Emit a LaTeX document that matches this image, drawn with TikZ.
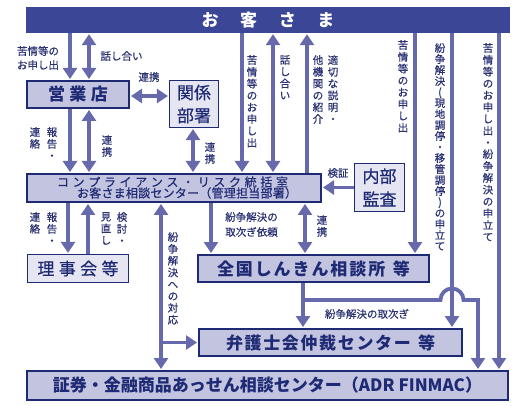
\documentclass[tikz,border=0pt]{standalone}
\usepackage{fontspec}
\setmainfont{Noto Sans CJK JP}
\newfontfamily\medfont[FakeBold=0.5]{Noto Sans CJK JP}
\usetikzlibrary{arrows.meta, positioning, calc}

\definecolor{barblue}{HTML}{3B4796}
\definecolor{navy}{HTML}{1E2A74}
\definecolor{boxfill}{HTML}{C3C4E0}
\definecolor{litefill}{HTML}{E6E6F3}
\definecolor{arrowc}{HTML}{6669AB}
\definecolor{labelc}{HTML}{2A3273}

% spread characters over a width
\def\spreadloop#1#2{#1\ifx#2\relax\else\hfil\expandafter\spreadloop\expandafter#2\fi}
\newcommand{\spaced}[2]{\makebox[#1][s]{\spreadloop#2\relax}}
% vertical (tategaki) text
\def\vloop#1{\ifx#1\relax\else\hbox to 1.1em{\hss#1\hss}\expandafter\vloop\fi}
\newcommand{\vtext}[2][11.8pt]{\vbox{\baselineskip=#1\lineskiplimit=-20pt\vloop#2\relax}}

\tikzset{
  arr/.style={line width=3.8pt, draw=arrowc, -{Triangle[width=14pt,length=11pt]}, shorten >=1pt},
  darr/.style={arr, {Triangle[width=14pt,length=11pt]}-{Triangle[width=14pt,length=11pt]}, shorten <=1pt},
  topbar/.style={fill=barblue, text=white, font=\bfseries\fontsize{17}{20}\selectfont,
    minimum width=484pt, minimum height=26pt, inner sep=0pt},
  bigbox/.style={draw=navy, fill=boxfill, line width=2pt, text=navy,
    font=\bfseries\fontsize{17}{20}\selectfont, inner sep=0pt},
  smallbox/.style={draw=navy, fill=litefill, line width=1.2pt, text=navy, align=center,
    font=\medfont\fontsize{17}{23}\selectfont, inner sep=0pt},
  lbl/.style={text=labelc, font=\medfont\fontsize{10.5}{14}\selectfont, inner sep=0pt, align=center},
  comptext/.style={text=navy, font=\medfont\fontsize{12}{14}\selectfont, inner sep=0pt},
}

\begin{document}
\begin{tikzpicture}[x=1pt, y=-1pt]
  \useasboundingbox (0,0) rectangle (530,406);
  \fill[white] (0,0) rectangle (530,406);

  % boxes
  \node[topbar] (bar) at (268,20) {\spaced{133pt}{お客さま}};
  \node[bigbox, minimum width=102pt, minimum height=27pt] (eigyo) at (78,94.5) {\spaced{60pt}{営業店}};
  \node[smallbox, minimum width=49pt, minimum height=47pt] (kankei) at (194,104) {関係\\部署};
  \node[bigbox, minimum width=294pt, minimum height=28pt] (comp) at (174,188) {};
  \node[comptext] (comp1) at (172.5,182) {\spaced{231pt}{コンプライアンス・リスク統括室}};
  \node[comptext] (comp2) at (187,193) {\spaced{220pt}{お客さま相談センター（管理担当部署）}};
  \node[smallbox, minimum width=50pt, minimum height=48pt] (naibu) at (379.5,187.5) {内部\\監査};
  \node[smallbox, minimum width=101pt, minimum height=28pt] (rijikai) at (78,268.5) {\spaced{81pt}{理事会等}};
  \node[bigbox, minimum width=231pt, minimum height=27pt] (zenkoku) at (313.5,268.5) {\spaced{193pt}{全国しんきん相談所{~}等}};
  \node[bigbox, minimum width=263pt, minimum height=27pt] (bengoshi) at (330.5,342.5) {\spaced{209pt}{弁護士会仲裁センター{~}等}};
  \node[bigbox, minimum width=481pt, minimum height=29pt] (adr) at (267.5,385.5) {証券・金融商品あっせん相談センター（ADR FINMAC）};

  % customers <-> branch
  \draw[arr] ([xshift=-8pt]eigyo.north |- bar.south) -- ([xshift=-8pt]eigyo.north);
  \draw[darr] ([xshift=11pt]eigyo.north |- bar.south) -- ([xshift=11pt]eigyo.north);
  \draw[darr] ([yshift=-1.5pt]eigyo.east) -- ([yshift=-1.5pt]eigyo.east -| kankei.west);

  % branch, depts -> compliance
  \draw[arr] ([xshift=-8pt]eigyo.south) -- ([xshift=-8pt]eigyo.south |- comp.north);
  \draw[darr] ([xshift=11pt]eigyo.south) -- ([xshift=11pt]eigyo.south |- comp.north);
  \draw[darr] ([xshift=-1pt]kankei.south) -- ([xshift=-1pt]kankei.south |- comp.north);

  % customers <-> compliance
  \draw[arr] ([xshift=68pt]comp.north |- bar.south) -- ([xshift=68pt]comp.north);
  \draw[darr] ([xshift=99pt]comp.north |- bar.south) -- ([xshift=99pt]comp.north);
  \draw[arr] ([xshift=133pt]comp.north) -- ([xshift=133pt]comp.north |- bar.south);
  \draw[arr] (naibu.west) -- (naibu.west -| comp.east);

  % customers -> outside bodies
  \draw[arr] ([xshift=101.5pt]zenkoku.north |- bar.south) -- ([xshift=101.5pt]zenkoku.north);
  \draw[arr] ([xshift=121.5pt]bengoshi.north |- bar.south) -- ([xshift=121.5pt]bengoshi.north);
  \draw[arr] ([xshift=231.5pt]adr.north |- bar.south) -- ([xshift=231.5pt]adr.north);

  % compliance <-> board
  \draw[arr] ([xshift=-10pt]rijikai.north |- comp.south) -- ([xshift=-10pt]rijikai.north);
  \draw[arr] ([xshift=10pt]rijikai.north) -- ([xshift=10pt]rijikai.north |- comp.south);

  % compliance <-> shinkin
  \draw[arr] ([xshift=-102.5pt]zenkoku.north |- comp.south) -- ([xshift=-102.5pt]zenkoku.north);
  \draw[darr] ([xshift=-8.5pt]zenkoku.north |- comp.south) -- ([xshift=-8.5pt]zenkoku.north);

  % compliance <-> ADR, bengoshi
  \draw[darr] ([xshift=-13pt]comp.south) -- ([xshift=-13pt]comp.south |- adr.north);
  \draw[arr] ([xshift=-13pt]comp.south |- bengoshi.west) -- (bengoshi.west);

  % shinkin -> bengoshi, ADR (hop over line)
  \coordinate (hopL) at (440.5,300);
  \draw[arr] ([xshift=-10.5pt]zenkoku.south) -- ([xshift=-10.5pt]zenkoku.south |- bengoshi.north);
  \draw[arr] ([xshift=-10.5pt]zenkoku.south) |- (hopL) arc[start angle=180, end angle=0, radius=11.5pt]
    -| ([xshift=210.5pt]adr.north);

  % labels
  \node[lbl] (t1) at (38,58) {苦情等の\\お申し出};
  \node[lbl] (t2) at (121.5,56) {話し合い};
  \node[lbl] (t3) at (149,77) {連携};
  \node[lbl] (t4) at (338,173) {検証};
  \node[lbl, font=\medfont\fontsize{10.5}{15}\selectfont] (t5) at (251.5,224.5) {紛争解決の\\取次ぎ依頼};
  \node[lbl] (t6) at (367,314) {紛争解決の取次ぎ};

  % vertical labels
  \node[lbl, anchor=north] (v1) at (35,127) {\vtext{連絡}};
  \node[lbl, anchor=north] (v2) at (52,127) {\vtext{報告・}};
  \node[lbl, anchor=north] (v3) at (107,135) {\vtext{連携}};
  \node[lbl, anchor=north] (v4) at (210,142) {\vtext{連携}};
  \node[lbl, anchor=north] (v5) at (252,55) {\vtext{苦情等のお申し出}};
  \node[lbl, anchor=north] (v6) at (285,55) {\vtext{話し合い}};
  \node[lbl, anchor=north] (v7) at (318,55) {\vtext{他機関の紹介}};
  \node[lbl, anchor=north] (v8) at (333,55) {\vtext{適切な説明・}};
  \node[lbl, anchor=north] (v9) at (403,40) {\vtext{苦情等のお申し出}};
  \node[lbl, anchor=north] (v10) at (440,43) {\vtext[11pt]{紛争解決(現地調停・移管調停)の申立て}};
  \node[lbl, anchor=north] (v11) at (488,43) {\vtext{苦情等のお申し出・紛争解決の申立て}};
  \node[lbl, anchor=north] (v12) at (35,212) {\vtext{連絡}};
  \node[lbl, anchor=north] (v13) at (52,212) {\vtext{報告・}};
  \node[lbl, anchor=north] (v14) at (106,212) {\vtext{見直し}};
  \node[lbl, anchor=north] (v15) at (122,212) {\vtext{検討・}};
  \node[lbl, anchor=north] (v16) at (322,215) {\vtext{連携}};
  \node[lbl, anchor=north] (v17) at (173,232) {\vtext{紛争解決への対応}};
\end{tikzpicture}
\end{document}
